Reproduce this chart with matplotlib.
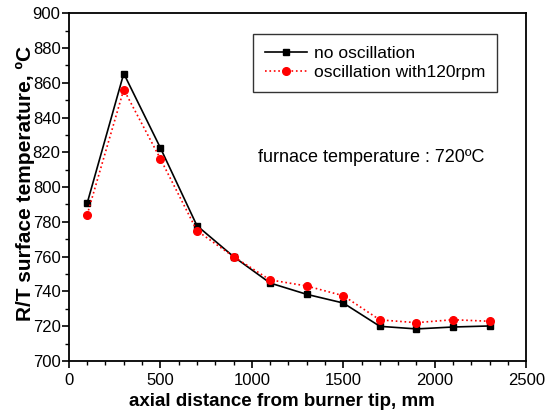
import numpy as np
import matplotlib
matplotlib.use("Agg")
import matplotlib.pyplot as plt
from matplotlib.ticker import MultipleLocator

plt.rcParams['font.family'] = ['Liberation Sans', 'DejaVu Sans']

# axial positions along the tube (mm)
distance = [100, 300, 500, 700, 900, 1100, 1300, 1500, 1700, 1900, 2100, 2300]
# surface temperatures (degC)
no_osc = [790.7, 865.3, 822.6, 777.8, 760.0, 744.8, 738.3, 733.3, 719.9, 718.4, 719.5, 720.1]
osc_120 = [784.1, 856.1, 816.3, 774.9, 760.0, 746.6, 743.1, 737.5, 723.6, 722.0, 723.7, 722.8]

fig = plt.figure(figsize=(5.51, 4.12), dpi=100)
ax = fig.add_axes([0.125, 0.124, 0.83, 0.844])

ax.plot(distance, no_osc, '-s', color='black', lw=1.2, ms=5, label='no oscillation')
ax.plot(distance, osc_120, ':o', color='red', lw=1.2, ms=5.5, label='oscillation with120rpm')

ax.set_xlim(0, 2500)
ax.set_ylim(700, 900)
ax.xaxis.set_major_locator(MultipleLocator(500))
ax.xaxis.set_minor_locator(MultipleLocator(100))
ax.yaxis.set_major_locator(MultipleLocator(20))
ax.yaxis.set_minor_locator(MultipleLocator(10))
ax.tick_params(which='major', direction='out', length=5, width=1.2, labelsize=12)
ax.tick_params(which='minor', direction='out', length=3, width=1)
ax.tick_params(axis='y', which='major', pad=1)
for s in ax.spines.values():
    s.set_linewidth(1.3)

ax.set_xlabel('axial distance from burner tip, mm', fontsize=13.5, fontweight='bold')
ax.xaxis.set_label_coords(0.465, -0.093)
ax.set_ylabel('R/T surface temperature, ºC', fontsize=15, fontweight='bold')
ax.yaxis.set_label_coords(-0.074, 0.51)

leg = ax.legend(loc='upper left', bbox_to_anchor=(0.403, 0.94), fontsize=12.5, frameon=True,
                fancybox=False, edgecolor='black', handlelength=2.4, borderpad=0.7,
                labelspacing=0.2, handletextpad=0.4, borderaxespad=0)
leg.get_frame().set_linewidth(1.0)

ax.text(0.414, 0.572, 'furnace temperature : 720ºC', transform=ax.transAxes,
        fontsize=13, va='baseline')

fig.savefig('out.png', dpi=100)
